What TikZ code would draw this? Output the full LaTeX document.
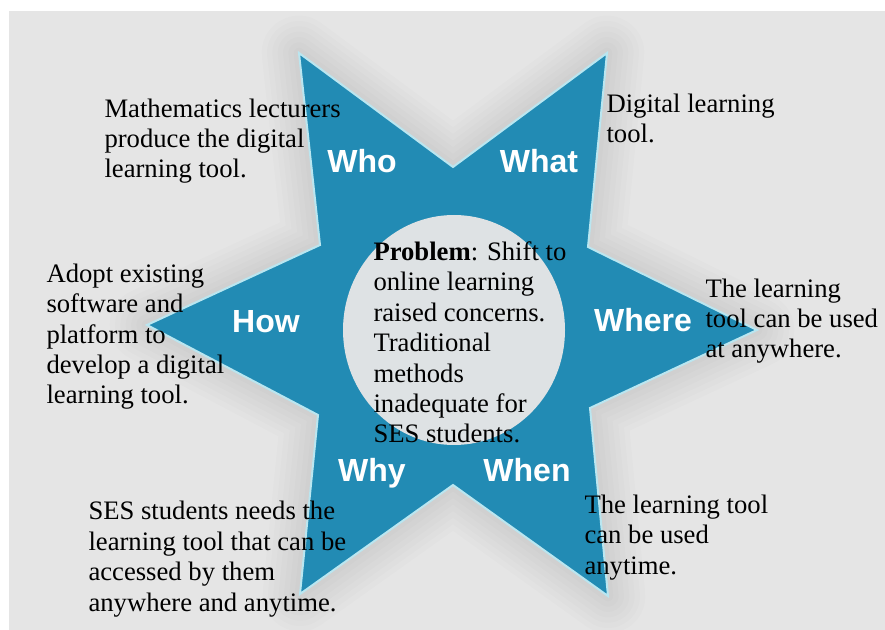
\documentclass[tikz,border=0pt]{standalone}
\usepackage{fontspec}
\setmainfont{Liberation Serif}
\newfontfamily\askfont{Liberation Sans}
\usetikzlibrary{positioning}

\definecolor{panelgrey}{RGB}{229,229,229}
\definecolor{starblue}{RGB}{34,139,180}
\definecolor{staredge}{RGB}{186,230,240}
\definecolor{hubcentre}{RGB}{222,226,228}
\definecolor{hubrim}{RGB}{247,252,253}

% soft grey middle, bright ring at the rim
\pgfdeclareradialshading{hubshade}{\pgfpoint{0bp}{0bp}}{color(0bp)=(hubcentre); color(28bp)=(hubcentre); color(44bp)=(hubrim); color(50bp)=(hubrim)}

\tikzset{every picture/.style={line width=0.75pt}}
\tikzset{
  star outline/.style={insert path={(whotip) -- (topnotch) -- (whattip) -- (rightup) -- (wheretip) -- (rightdown) -- (whentip) -- (bottomnotch) -- (whytip) -- (leftdown) -- (howtip) -- (leftup) -- cycle}},
  ask/.style={anchor=base, inner sep=0pt, text=white, font=\askfont\bfseries\fontsize{24}{24}\selectfont},
  % placed by the baseline of the last line
  note/.style={anchor=base west, inner sep=0pt, align=left, font=\fontsize{20}{22.8}\selectfont},
}

\begin{document}
\begin{tikzpicture}[x=0.75pt,y=0.75pt,yscale=-1,xscale=1]
\useasboundingbox (0,0) rectangle (885,630);

% panel
\fill [panelgrey] (9,11) rectangle (885,630);

% corners of the star
\coordinate (whotip) at (299,53);
\coordinate (topnotch) at (453,167);
\coordinate (whattip) at (607,53);
\coordinate (rightup) at (588,247);
\coordinate (wheretip) at (757,330);
\coordinate (rightdown) at (590,408);
\coordinate (whentip) at (608,596);
\coordinate (bottomnotch) at (453,485);
\coordinate (whytip) at (300,594);
\coordinate (leftdown) at (318,415);
\coordinate (howtip) at (147,325);
\coordinate (leftup) at (320,245);

% blurred shadow round the star
\foreach \w in {56,48,40,32,24,16,8} {
  \draw [draw=black, draw opacity=0.012, line width=\w, line join=round] [star outline];
}

% star
\draw [draw=staredge, fill=starblue, line width=1.5, line join=miter] [star outline];

% hub
\path [shading=hubshade] (454,330) ellipse (111 and 115);

% the six questions
\node [ask] (who) at (362,173) {Who};
\node [ask] (what) at (539,173) {What};
\node [ask] (how) at (266,333) {How};
\node [ask] (where) at (643,332) {Where};
\node [ask] (why) at (372,482) {Why};
\node [ask] (when) at (527,482) {When};

% answers
\node [note] (whonote) at (104,178) {Mathematics lecturers\\produce the digital\\learning tool.};
\node [note] (whatnote) at (606,143) {Digital learning\\tool.};
\node [note] (hownote) at (46,404) {Adopt existing\\software and\\platform to\\develop a digital\\learning tool.};
\node [note] (wherenote) at (705,358) {The learning\\tool can be used\\at anywhere.};
\node [note] (problem) at (373,443) {\textbf{Problem}: Shift to\\online learning\\raised concerns.\\Traditional\\methods\\inadequate for\\SES students.};
\node [note] (whynote) at (88,611) {SES students needs the\\learning tool that can be\\accessed by them\\anywhere and anytime.};
\node [note] (whennote) at (584,574) {The learning tool\\can be used\\anytime.};

\end{tikzpicture}
\end{document}
